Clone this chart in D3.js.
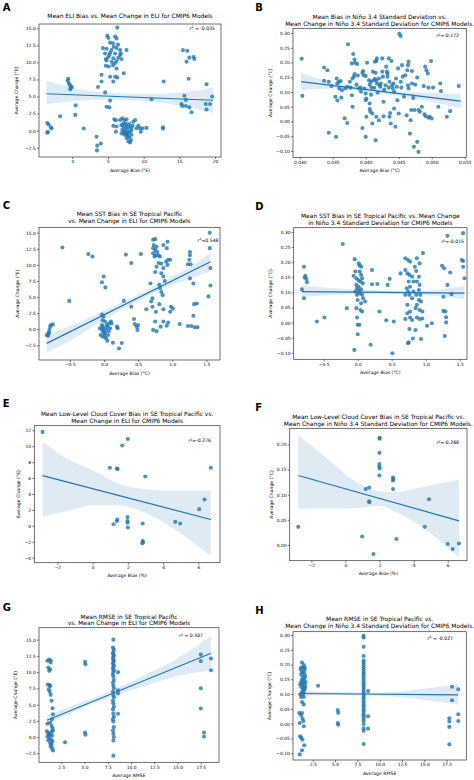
<!DOCTYPE html>
<html><head><meta charset="utf-8">
<script src="https://cdn.jsdelivr.net/npm/d3@7"></script>
<style>html,body{margin:0;padding:0;background:#fff;} svg{display:block;} text{font-family:"DejaVu Sans",sans-serif;fill:#000;}</style>
</head><body><svg id="c" width="474" height="780"></svg>
<script>
// ---------------- DATA ----------------
const aPts = [[-3.5,1.1],[-3.3,0.9],[-3.0,0.5],[-2.9,0.3],[-3.4,-0.2],[-3.5,-0.3],[-1.7,2.1],
[-0.56,7.6],[-0.65,7.3],[-0.47,6.9],[-0.33,6.7],[-0.23,6.3],[-0.05,6.4],[-0.28,6.05],[0.47,3.7],[0.42,2.3],[1.6,0.3],
[3.4,-0.9],[3.5,-2.2],[4.0,-1.9],[3.46,-2.9],[3.6,6.4],[4.1,7.2],[4.1,8.2],[4.6,5.6],[4.8,3.5],[5.2,3.4],[5.3,4.4],
[4.9,13.9],[5.05,13.6],[6.0,13.8],[6.2,13.5],[5.3,12.9],[5.7,12.8],[4.3,12.1],[4.8,12.0],[5.5,11.8],[6.2,12.1],[6.7,11.8],[7.6,11.8],[4.6,11.3],[5.3,11.4],[6.0,11.3],[6.7,11.1],[5.05,10.8],[5.75,10.6],[6.45,10.7],[4.8,10.3],[5.5,10.1],[6.2,10.2],[6.9,10.5],[4.7,10.5],[6.0,9.9],[5.7,9.6],[6.3,15.1],[5.1,9.4],[6.2,9.1],[5.3,7.9],[6.0,7.9],[5.75,7.2],[6.3,7.8],[7.2,8.4],[4.7,9.5],[5.8,12.3],[6.4,12.6],[6.8,11.3],[5.2,11.1],
[5.9,1.65],[6.1,1.5],[5.75,0.7],[6.2,0.6],[6.1,-0.15],[6.7,1.55],[7.0,1.8],[7.3,1.55],[7.6,1.65],[6.9,0.8],[7.15,0.6],[7.4,0.3],[7.6,0.7],[7.85,0.5],[7.0,0.1],[7.4,-0.15],[7.7,0.0],[7.5,-0.4],[7.85,-0.4],[7.75,-0.8],[8.0,-1.0],[8.2,-1.4],[7.85,-1.6],[8.1,-1.75],[7.3,-0.6],[7.6,-1.1],[8.3,-0.6],[8.1,-0.15],[8.3,0.1],[8.55,1.3],[8.8,1.55],[9.0,0.35],[9.25,0.7],[9.5,0.35],[9.6,-0.15],[9.85,0.35],[10.4,0.4],[7.15,1.05],[7.5,1.05],[8.0,0.95],[7.25,-0.3],[7.6,-0.55],[8.2,0.5],[8.45,0.7],[6.9,-0.4],
[11.1,4.6],[12.7,0.5],[12.7,0.3],[12.8,7.2],
[15.5,11.8],[16.1,11.7],[16.0,10.1],[16.4,10.7],[17.0,10.8],[17.1,10.5],[16.3,7.6],[15.3,3.9],[15.4,3.6],[15.7,5.1],[15.9,4.5],[15.9,3.6],[16.4,3.4],[16.7,2.7],
[18.8,6.8],[18.7,3.9],[18.8,3.1],[19.3,3.9],[19.6,5.0]];
const aFitX = [-3.6, 19.7], aFitY = [5.4, 4.45];
const aBandX = [-3.6, 0, 5, 8, 12, 16, 19.7];
const aBandLo = [3.85, 4.3, 4.55, 4.45, 4.15, 3.5, 2.6];
const aBandHi = [7.3, 6.3, 5.55, 5.4, 5.4, 5.7, 6.3];

const bPts = [[0.0303,0.213],[0.0304,0.087],[0.0337,0.183],[0.0342,0.174],[0.0337,0.138],[0.0344,0.135],[0.0344,-0.038],[0.0355,-0.052],[0.0348,0.12],[0.0354,0.084],[0.0357,0.072],[0.0356,0.146],[0.0359,0.135],[0.0362,0.137],[0.0357,0.129],[0.036,0.112],[0.0363,0.081],[0.0364,0.106],[0.0368,0.011],[0.0372,-0.005],[0.0373,0.262],[0.0369,0.112],[0.0372,0.118],[0.0377,0.115],[0.0379,0.089],[0.038,0.05],[0.038,0.146],[0.0382,0.152],[0.0379,0.197],[0.0381,0.229],[0.0383,0.21],[0.0384,0.199],[0.0387,0.195],[0.0388,0.156],[0.0383,0.161],[0.0386,0.125],[0.039,0.112],[0.0392,0.115],[0.0393,0.101],[0.0395,-0.022],[0.0396,0.171],[0.0395,0.165],[0.0397,0.157],[0.04,0.154],[0.0398,0.112],[0.04,0.095],[0.0401,0.078],[0.04,-0.052],[0.0401,0.016],[0.0402,0.199],[0.0405,0.14],[0.0406,0.061],[0.0406,0.042],[0.0407,0.033],[0.0408,0.135],[0.0406,0.125],[0.0409,0.115],[0.0408,0.091],[0.041,0.027],[0.041,-0.007],[0.0411,0.169],[0.0412,0.14],[0.0413,0.114],[0.0414,0.145],[0.0415,0.165],[0.0416,0.205],[0.0414,0.203],[0.0417,0.214],[0.0416,0.138],[0.0417,0.129],[0.0418,0.098],[0.0416,0.016],[0.0415,-0.064],[0.042,0.004],[0.0421,0.123],[0.0422,0.118],[0.0423,0.129],[0.0425,0.214],[0.0425,0.169],[0.0426,0.152],[0.0427,0.067],[0.0427,0.018],[0.0428,0.108],[0.043,0.123],[0.0431,0.186],[0.0432,0.169],[0.0433,0.163],[0.0433,0.152],[0.0435,0.214],[0.0435,0.115],[0.0436,0.135],[0.0436,0.016],[0.0437,0.029],[0.0438,-0.007],[0.0439,0.205],[0.044,0.123],[0.0441,0.112],[0.0442,0.129],[0.0443,0.101],[0.0443,0.044],[0.0445,-0.018],[0.0446,0.146],[0.0447,0.118],[0.0448,0.072],[0.0449,0.18],[0.045,0.027],[0.0451,0.297],[0.0453,0.29],[0.0453,0.135],[0.0454,0.115],[0.0455,0.191],[0.0456,0.152],[0.0458,0.084],[0.046,0.157],[0.0462,0.021],[0.0463,0.174],[0.0464,0.191],[0.0464,0.123],[0.0465,0.112],[0.0465,0.203],[0.0467,-0.041],[0.0468,0.004],[0.0469,0.039],[0.047,0.129],[0.047,0.171],[0.0472,0.08],[0.0473,-0.086],[0.0474,0.039],[0.0475,0.125],[0.0478,0.149],[0.0478,-0.069],[0.048,0.039],[0.048,-0.103],[0.0482,0.033],[0.0485,0.05],[0.0488,0.12],[0.049,0.186],[0.0491,0.018],[0.0492,0.174],[0.0494,0.163],[0.0495,0.115],[0.0495,0.013],[0.0497,0.016],[0.0499,0.205],[0.05,0.01],[0.0502,0.115],[0.051,0.05],[0.0513,0.129],[0.0514,0.103],[0.0523,0.016],[0.0528,0.035],[0.0541,0.12],[0.0489,0.024],[0.0376,0.135],[0.04,0.072],[0.042,0.146]];
const bFitX = [0.0302, 0.0544], bFitY = [0.135, 0.069];
const bBandX = [0.0302, 0.035, 0.040, 0.043, 0.047, 0.0544];
const bBandLo = [0.106, 0.112, 0.100, 0.093, 0.079, 0.045];
const bBandHi = [0.165, 0.133, 0.117, 0.108, 0.099, 0.094];

const cPts = [[-0.84,-0.9],[-0.81,-0.64],[-0.82,-1.0],[-0.8,-0.1],[-0.79,0.4],[-0.78,0.65],[-0.75,0.75],[-0.81,-0.5],
[-0.61,12.7],[-0.51,4.4],[-0.23,11.7],[-0.17,11.3],[-0.03,7.3],[-0.005,8.2],[0.02,6.5],
[-0.03,2.3],[-0.01,1.95],[-0.03,0.65],[-0.02,0.4],[0,0.15],[-0.03,-0.1],[-0.01,-0.4],[0.015,-0.6],[-0.05,-0.9],[-0.02,-1.15],[0.03,-1.4],[0.05,-1.8],[0.06,-0.9],[0.03,-0.1],[0.05,0.4],[0.07,0.9],[0.015,1.2],[0.04,0.65],[0,-0.6],[0.07,-0.3],[0.09,0.15],[-0.06,0.15],[0.11,0.9],[0.1,1.2],[0.19,0.4],[0.2,0.15],[0.015,-1.15],[-0.02,1.4],
[0.13,-2.1],[0.22,-3.0],[0.26,-2.15],[0.29,4.4],[0.32,11.6],[0.4,3.5],[0.4,10.3],[0.54,11.7],[0.44,1.6],[0.45,0.8],[0.48,0.4],[0.5,0.65],[0.49,-0.1],[0.62,3.1],[0.68,7.1],[0.69,4.3],[0.71,4.8],[0.71,3.5],[0.75,1.2],[0.76,2.7],[0.72,-0.1],[0.77,-0.3],[0.83,0.4],[0.87,1.2],[0.92,0.55],[0.94,1.05],[0.98,3.5],[1.01,3.2],[0.97,2.7],[0.87,3.1],[0.81,3.9],[0.75,8.9],[0.77,9.7],
[0.72,13.9],[0.75,14.0],[0.73,13.1],[0.77,12.8],[0.72,12.6],[0.75,12.3],[0.78,12.0],[0.72,11.8],[0.76,11.5],[0.8,11.5],[0.82,11.3],[0.74,11.3],[0.87,13.1],[0.93,13.6],[0.92,12.6],[0.94,10.8],[0.91,10.5],[0.97,10.8],[0.84,10.2],[0.87,9.5],[0.84,8.7],[0.87,8.2],[0.81,6.9],[0.82,6.4],[0.89,7.5],[0.93,10.0],[0.8,10.3],[0.84,5.8],[0.86,5.3],
[1.11,0.8],[1.23,0.5],[1.28,0.5],[1.26,12.0],[1.26,11.5],[1.25,10.8],[1.27,10.1],[1.23,10.1],[1.26,7.9],[1.31,7.1],[1.31,2.1],[1.32,3.9],[1.36,4.0],[1.33,0.3],[1.37,0.3],[1.53,5.1],[1.55,15.0],[1.55,12.6],[1.56,9.5],[1.56,6.8]];
const cFitX = [-0.84, 1.56], cFitY = [-2.2, 10.5];
const cBandX = [-0.84, -0.4, 0, 0.5, 1.0, 1.3, 1.56];
const cBandLo = [-3.6, -1.2, 1.5, 4.4, 6.9, 8.0, 9.0];
const cBandHi = [-0.8, 0.9, 2.9, 5.4, 8.2, 9.9, 11.9];

const dPts = [[-0.82,0.11],[-0.79,0.185],[-0.78,0.149],[-0.77,0.155],[-0.755,0.145],[-0.745,0.134],[-0.79,0.081],
[-0.6,0.004],[-0.49,0.017],[-0.22,0.26],[-0.16,0.048],
[-0.045,0.21],[-0.06,0.155],[-0.035,0.169],[-0.02,0.147],[-0.02,0.125],[-0.01,0.114],[-0.035,0.103],[-0.01,0.092],[0,0.075],[-0.02,0.048],[-0.01,0.017],[0,-0.007],[0.025,-0.007],[0,-0.038],[-0.05,-0.09],[0.015,0.196],[0.03,0.19],[0.05,0.185],[0.03,0.169],[0.05,0.158],[0.065,0.147],[0.04,0.136],[0.075,0.13],[0.015,0.119],[0.05,0.11],[0.03,0.097],[0.065,0.092],[0.08,0.081],[0.05,0.064],[0.065,0.037],[0.11,0.07],[0.04,0.042],[0.01,0.14],[0.02,0.106],
[0.21,0.174],[0.21,0.127],[0.29,0.128],[0.19,-0.073],[0.32,0.037],[0.42,0.008],[0.44,0.125],[0.47,0.145],[0.53,0.004],[0.51,-0.101],[0.63,0.163],
[0.7,0.213],[0.74,0.207],[0.77,0.202],[0.7,0.174],[0.73,0.163],[0.76,0.158],[0.8,0.152],[0.75,0.136],[0.77,0.119],[0.72,0.114],[0.74,0.103],[0.82,0.103],[0.7,0.092],[0.76,0.092],[0.73,0.059],[0.77,0.037],[0.73,0.031],[0.7,0.012],[0.77,0.017],[0.76,-0.021],[0.75,-0.065],[0.74,-0.068],[0.81,-0.052],[0.85,-0.024],[0.84,0.185],[0.87,0.213],[0.86,0.171],[0.9,0.152],[0.87,0.136],[0.91,0.125],[0.9,0.108],[0.86,0.092],[0.92,0.092],[0.9,0.075],[0.93,0.07],[0.87,0.059],[0.91,0.042],[0.95,0.037],[0.87,0.017],[0.91,0.012],[0.95,0.014],[0.93,-0.054],[0.96,0.23],[0.91,0.196],[0.82,0.136],[0.8,0.081],[0.85,0.048],[0.8,0.009],
[1.02,-0.01],[1.09,-0.002],[1.24,0.188],[1.27,0.18],[1.26,0.086],[1.26,0.039],[1.29,0.037],[1.3,0.018],[1.3,0.001],[1.28,-0.044],[1.32,0.125],[1.32,0.287],[1.36,0.166],[1.38,0.094],[1.53,0.207],[1.55,0.204],[1.55,0.185],[1.57,0.147],[1.55,0.296]];
const dFitX = [-0.82, 1.57], dFitY = [0.103, 0.098];
const dBandX = [-0.82, -0.3, 0.3, 0.8, 1.2, 1.57];
const dBandLo = [0.084, 0.092, 0.096, 0.093, 0.088, 0.077];
const dBandHi = [0.124, 0.113, 0.107, 0.105, 0.110, 0.122];

const ePts = [[-2.84,11.8],[2.0,10.9],[1.68,10.1],[0.98,7.3],[1.38,7.2],[1.42,7.15],[2.99,6.2],[6.71,7.3],[6.35,3.3],[6.05,2.1],[4.69,0.5],[4.97,0.3],[1.19,0.2],[1.38,0.6],[1.4,0.8],[1.98,1.1],[1.98,0.4],[2.0,-0.2],[2.84,0.3],[2.84,-1.9],[2.82,-2.2],[2.86,-2.05],[1.98,0.6]];
const eFitX = [-2.84, 6.71], eFitY = [6.3, 0.8];
const eBandX = [-2.84, -1.5, 0, 1.5, 3, 4.5, 6.71];
const eBandLo = [1.2, 1.8, 2.6, 2.6, 1.6, -0.2, -3.8];
const eBandHi = [10.6, 8.5, 7.0, 5.3, 4.6, 4.4, 4.4];

const fPts = [[-2.77,0.036],[2.01,0.213],[2.0,0.211],[1.99,0.183],[1.99,0.161],[1.99,0.156],[2.01,0.152],[1.99,0.138],[2.79,0.134],[2.81,0.131],[2.79,0.128],[2.79,0.111],[1.19,0.111],[1.39,0.114],[1.39,0.087],[1.4,0.085],[0.98,0.017],[1.64,-0.018],[2.99,0.012],[4.9,0.091],[4.65,0.036],[6.0,0.002],[6.29,-0.008],[6.66,0.003]];
const fFitX = [-2.77, 6.66], fFitY = [0.138, 0.048];
const fBandX = [-2.77, -1, 0.5, 2, 3, 4.5, 6.66];
const fBandLo = [0.072, 0.072, 0.073, 0.078, 0.065, 0.035, -0.025];
const fBandHi = [0.218, 0.170, 0.128, 0.107, 0.105, 0.115, 0.130];

const gPts = [[1.2,11.95],[1.0,11.75],[1.35,11.5],[1.1,10.7],[1.3,10.45],[1.2,10.2],[1.05,8.1],[1.3,7.85],[1.15,7.35],[1.25,7.0],[1.35,6.5],[1.45,5.6],[1.55,4.45],[1.6,3.5],[1.5,2.75],[1.0,2.05],[1.3,2.2],[1.45,1.75],[1.55,1.4],[0.95,0.9],[1.1,0.6],[1.3,0.35],[1.0,0.1],[1.45,0.8],[1.5,0.2],[1.2,-0.15],[1.4,-0.4],[1.55,-0.65],[1.3,-0.9],[1.45,-1.15],[1.35,-1.4],[1.5,-1.7],[1.6,-2.05],[1.2,0.45],[1.6,1.0],[1.1,-0.5],[1.35,11.8],[1.25,8.0],
[2.9,-0.8],[5.05,11.6],[5.1,11.2],[5.05,0.7],[5.1,0.35],
[8.1,15.0],[8.05,13.78],[8.15,13.48],[8.1,13.11],[8.05,12.86],[8.15,12.6],[8.1,12.35],[8.05,12.1],[8.15,11.84],[8.1,11.58],[8.05,11.33],[8.15,11.07],[8.1,10.81],[8.05,10.56],[8.15,10.3],[8.1,10.05],[8.05,9.69],[8.1,9.28],[8.15,8.77],[8.05,8.36],[8.1,7.9],[8.15,7.5],[8.05,6.98],[8.1,6.48],[8.15,6.12],[8.05,5.6],[8.1,5.2],[8.15,4.69],[8.05,4.29],[8.1,3.68],[8.15,3.16],[8.05,2.76],[8.1,2.39],[8.15,1.53],[8.05,1.01],[8.1,0.51],[8.15,0.0],[8.1,-0.52],[8.1,-2.86],
[8.6,10.0],[8.6,7.2],[8.6,6.7],[8.6,3.6],
[17.5,12.7],[17.5,11.7],[17.5,7.5],[17.5,4.4],[17.85,0.7],[17.85,0.1],[18.6,12.1],[18.6,10.3]];
const gFitX = [0.95, 18.6], gFitY = [2.6, 12.9];
const gBandX = [0.95, 4, 8.1, 12, 15, 18.6];
const gBandLo = [1.9, 4.0, 6.3, 8.1, 9.4, 10.3];
const gBandHi = [3.3, 5.0, 7.3, 9.9, 12.1, 15.6];

const hPts = [[1.3,0.207],[1.5,0.198],[1.2,0.19],[1.4,0.19],[1.6,0.183],[1.3,0.175],[1.5,0.175],[1.2,0.166],[1.6,0.166],[1.4,0.158],[1.3,0.149],[1.55,0.149],[1.2,0.141],[1.45,0.141],[1.6,0.133],[1.3,0.133],[1.5,0.124],[1.2,0.124],[1.4,0.116],[1.6,0.116],[1.3,0.107],[1.5,0.107],[1.1,0.099],[1.4,0.099],[1.2,0.09],[1.5,0.09],[1.3,0.073],[1.5,0.065],[1.0,0.036],[1.3,0.036],[1.2,0.028],[1.35,0.017],[1.45,0.009],[1.05,0.002],[1.5,-0.009],[1.1,-0.043],[1.2,-0.048],[1.35,-0.054],[1.55,-0.073],[1.3,-0.09],[1.05,-0.104],[1.6,0.19],[1.15,0.183],[1.65,0.158],[1.7,0.141],[1.65,0.124],[1.1,0.133],
[3.1,0.128],[5.3,0.046],[5.35,0.037],[5.3,0.002],[5.35,-0.004],
[8.2,0.297],[8.2,0.291],[8.2,0.26],[8.2,0.229],[8.2,0.213],[8.2,0.206],[8.2,0.198],[8.2,0.19],[8.2,0.183],[8.2,0.175],[8.2,0.168],[8.2,0.16],[8.2,0.152],[8.2,0.145],[8.2,0.137],[8.2,0.13],[8.2,0.122],[8.2,0.115],[8.2,0.107],[8.2,0.1],[8.2,0.092],[8.2,0.085],[8.2,0.077],[8.2,0.07],[8.2,0.062],[8.2,0.055],[8.2,0.047],[8.2,0.04],[8.2,0.032],[8.2,0.025],[8.2,0.017],[8.2,0.01],[8.2,-0.001],[8.2,-0.016],[8.2,-0.024],[8.2,-0.069],
[8.7,0.11],[8.7,0.025],[8.7,-0.017],
[18.1,0.125],[18.8,0.116],[18.1,0.079],[18.8,0.032],[18.8,0.009],[17.8,0.018],[17.8,0.007],[17.8,-0.011],[17.8,-0.07]];
const hFitX = [1.05, 18.8], hFitY = [0.102, 0.097];
const hBandX = [1.05, 5, 8.2, 12, 15, 18.8];
const hBandLo = [0.092, 0.096, 0.096, 0.090, 0.080, 0.065];
const hBandHi = [0.112, 0.107, 0.105, 0.108, 0.118, 0.135];

const eliTicks = [-2.5, 0, 2.5, 5, 7.5, 10, 12.5, 15];
const ninoTicks = [-0.10, -0.05, 0, 0.05, 0.10, 0.15, 0.20, 0.25, 0.30];
const biasCTicks = [-0.5, 0, 0.5, 1.0, 1.5];
const rmseTicks = [2.5, 5, 7.5, 10, 12.5, 15, 17.5];

// ---------------- LAYOUT ----------------
const panels = [
 {id:"A", pts:aPts, fx:aFitX, fy:aFitY, bx:aBandX, blo:aBandLo, bhi:aBandHi,
  xt:[0,5,10,15,20], xf:d3.format("d"), yt:eliTicks, yf:d3.format(".1f"),
  title:["Mean ELI Bias vs. Mean Change in ELI for CMIP6 Models"], ty:[18],
  xl:"Average Bias (°E)", yl:"Average Change (°E)", r2:" = -0.035", r2x:215, r2y:30, lx:2.7, ly:10.7,
  box:{l:39,r:221,t:24,b:157}, xd:[-4.66,20.83], yd:[-3.87,15.63], yld:-22.3},
 {id:"B", pts:bPts, fx:bFitX, fy:bFitY, bx:bBandX, blo:bBandLo, bhi:bBandHi,
  xt:[0.030,0.035,0.040,0.045,0.050,0.055], xf:d3.format(".3f"), yt:ninoTicks, yf:d3.format(".2f"),
  title:["Mean Bias in Niño 3.4 Standard Deviation vs.","Mean Change in Niño 3.4 Standard Deviation for CMIP6 Models."], ty:[18.7,25.7],
  xl:"Average Bias (°C)", yl:"Average Change (°C)", r2:"=-0.172", r2x:459, r2y:37.3, lx:255.3, ly:10.7,
  box:{l:293,r:466.3,t:28.3,b:157.3}, xd:[0.02898,0.05524], yd:[-0.1214,0.316], yld:-22.7},
 {id:"C", pts:cPts, fx:cFitX, fy:cFitY, bx:cBandX, blo:cBandLo, bhi:cBandHi,
  xt:biasCTicks, xf:d3.format(".1f"), yt:eliTicks, yf:d3.format(".1f"),
  title:["Mean SST Bias in SE Tropical Pacific","vs. Mean Change in ELI for CMIP6 Models"], ty:[216.3,223.3],
  xl:"Average Bias (°C)", yl:"Average Change (°E)", r2:"=0.548", r2x:218.5, r2y:241.6, lx:2.7, ly:209,
  box:{l:39,r:220,t:227.3,b:360}, xd:[-0.953,1.70], yd:[-4.78,15.84], yld:-21.7},
 {id:"D", pts:dPts, fx:dFitX, fy:dFitY, bx:dBandX, blo:dBandLo, bhi:dBandHi,
  xt:biasCTicks, xf:d3.format(".1f"), yt:ninoTicks, yf:d3.format(".2f"),
  title:["Mean SST Bias in SE Tropical Pacific vs. Mean Change","in Niño 3.4 Standard Deviation for CMIP6 Models"], ty:[217.7,225],
  xl:"Average Bias (°C)", yl:"Average Change (°C)", r2:"=-0.015", r2x:464, r2y:243.3, lx:255.3, ly:210,
  box:{l:293.7,r:467,t:227.7,b:359.3}, xd:[-0.941,1.607], yd:[-0.121,0.314], yld:-23.4},
 {id:"E", pts:ePts, fx:eFitX, fy:eFitY, bx:eBandX, blo:eBandLo, bhi:eBandHi,
  xt:[-2,0,2,4,6], xf:d3.format("d"), yt:[-4,-2,0,2,4,6,8,10,12], yf:d3.format("d"),
  title:["Mean Low-Level Cloud Cover Bias in SE Tropical Pacific vs.","Mean Change in ELI for CMIP6 Models"], ty:[416,423],
  xl:"Average Bias (%)", yl:"Average Change (°E)", r2:"=-0.276", r2x:211, r2y:442.3, lx:2.7, ly:407.3,
  box:{l:34.3,r:220,t:425.7,b:562.7}, xd:[-3.31,7.23], yd:[-4.63,12.58], yld:-16},
 {id:"F", pts:fPts, fx:fFitX, fy:fFitY, bx:fBandX, blo:fBandLo, bhi:fBandHi,
  xt:[-2,0,2,4,6], xf:d3.format("d"), yt:[0,0.05,0.10,0.15,0.20], yf:d3.format(".2f"),
  title:["Mean Low-Level Cloud Cover Bias in SE Tropical Pacific vs.","Mean Change in Niño 3.4 Standard Deviation for CMIP6 Models."], ty:[418.7,426],
  xl:"Average Bias (%)", yl:"Average Change (°C)", r2:"=-0.288", r2x:459, r2y:444.3, lx:255.3, ly:411,
  box:{l:289.7,r:467,t:428.3,b:560.7}, xd:[-3.27,7.13], yd:[-0.0312,0.2318], yld:-18.7},
 {id:"G", pts:gPts, fx:gFitX, fy:gFitY, bx:gBandX, blo:gBandLo, bhi:gBandHi,
  xt:rmseTicks, xf:d3.format(".1f"), yt:eliTicks, yf:d3.format(".1f"),
  title:["Mean RMSE in SE Tropical Pacific","vs. Mean Change in ELI for CMIP6 Models"], ty:[618.7,625.3],
  xl:"Average RMSE", yl:"Average Change (°E)", r2:" = 0.507", r2x:203, r2y:637.3, lx:2.7, ly:610.7,
  box:{l:39,r:219,t:627.7,b:762.3}, xd:[0.10,19.46], yd:[-3.88,16.84], yld:-24},
 {id:"H", pts:hPts, fx:hFitX, fy:hFitY, bx:hBandX, blo:hBandLo, bhi:hBandHi,
  xt:rmseTicks, xf:d3.format(".1f"), yt:ninoTicks, yf:d3.format(".2f"),
  title:["Mean RMSE in SE Tropical Pacific vs.","Mean Change in Niño 3.4 Standard Deviation for CMIP6 Models."], ty:[621.3,628.3],
  xl:"Average RMSE", yl:"Average Change (°C)", r2:" = -0.027", r2x:453, r2y:640, lx:255.3, ly:614.3,
  box:{l:293,r:466.3,t:631.7,b:760}, xd:[0.29,19.7], yd:[-0.123,0.311], yld:-23.3}
];

const svg = d3.select("#c");
const blue = "#1f77b4";
const TICK_FS = 4.4, LABEL_FS = 4.6, TITLE_FS = 5.95;

panels.forEach(p => {
  const x = d3.scaleLinear().domain(p.xd).range([p.box.l, p.box.r]);
  const y = d3.scaleLinear().domain(p.yd).range([p.box.b, p.box.t]);
  const g = svg.append("g");
  const clipId = "clip" + p.id;
  svg.append("clipPath").attr("id", clipId).append("rect")
    .attr("x", p.box.l).attr("y", p.box.t).attr("width", p.box.r - p.box.l).attr("height", p.box.b - p.box.t);
  const plot = g.append("g").attr("clip-path", `url(#${clipId})`);

  plot.append("g").selectAll("circle").data(p.pts).join("circle")
    .attr("cx", d => x(d[0])).attr("cy", d => y(d[1])).attr("r", 2.05)
    .attr("fill", blue).attr("fill-opacity", 0.8);

  const band = p.bx.map((bx, i) => ({x: bx, lo: p.blo[i], hi: p.bhi[i]}));
  plot.append("path").datum(band)
    .attr("d", d3.area().x(d => x(d.x)).y0(d => y(d.lo)).y1(d => y(d.hi)).curve(d3.curveMonotoneX))
    .attr("fill", blue).attr("fill-opacity", 0.15);

  plot.append("path").datum(p.fx.map((fx, i) => [fx, p.fy[i]]))
    .attr("d", d3.line().x(d => x(d[0])).y(d => y(d[1])))
    .attr("stroke", blue).attr("stroke-width", 1.2).attr("fill", "none");

  const xa = g.append("g").attr("transform", `translate(0,${p.box.b})`)
    .call(d3.axisBottom(x).tickValues(p.xt).tickFormat(p.xf).tickSize(2).tickSizeOuter(0).tickPadding(1.2));
  const ya = g.append("g").attr("transform", `translate(${p.box.l},0)`)
    .call(d3.axisLeft(y).tickValues(p.yt).tickFormat(p.yf).tickSize(2).tickSizeOuter(0).tickPadding(1.2));
  [xa, ya].forEach(a => {
    a.select(".domain").remove();
    a.selectAll("line").attr("stroke", "#222").attr("stroke-width", 0.6);
    a.selectAll("text").attr("font-family", "DejaVu Sans").attr("font-size", TICK_FS).attr("fill", "#111");
  });

  g.append("rect").attr("x", p.box.l).attr("y", p.box.t)
    .attr("width", p.box.r - p.box.l).attr("height", p.box.b - p.box.t)
    .attr("fill", "none").attr("stroke", "#333").attr("stroke-width", 0.7);

  const cx = (p.box.l + p.box.r) / 2;
  p.title.forEach((t, i) => {
    g.append("text").attr("x", cx).attr("y", p.ty[i]).attr("text-anchor", "middle")
      .attr("font-size", TITLE_FS).text(t);
  });
  g.append("text").attr("x", cx).attr("y", p.box.b + 14.5).attr("text-anchor", "middle")
    .attr("font-size", LABEL_FS).attr("fill", "#111").text(p.xl);
  const yc = (p.box.t + p.box.b) / 2;
  g.append("text").attr("transform", `translate(${p.box.l + p.yld + 1.6},${yc}) rotate(-90)`)
    .attr("text-anchor", "middle").attr("font-size", LABEL_FS).attr("fill", "#111").text(p.yl);

  const r = g.append("text").attr("x", p.r2x).attr("y", p.r2y).attr("text-anchor", "end")
    .attr("font-size", LABEL_FS).attr("fill", "#111");
  r.append("tspan").attr("font-style", "italic").text("r");
  r.append("tspan").attr("font-size", LABEL_FS * 0.7).attr("dy", -1.8).text("2");
  r.append("tspan").attr("dy", 1.8).text(p.r2);

  g.append("text").attr("x", p.lx).attr("y", p.ly).attr("font-family", "Liberation Sans, Arial, sans-serif")
    .attr("font-weight", "bold").attr("font-size", 10).text(p.id);
});
</script></body></html>
